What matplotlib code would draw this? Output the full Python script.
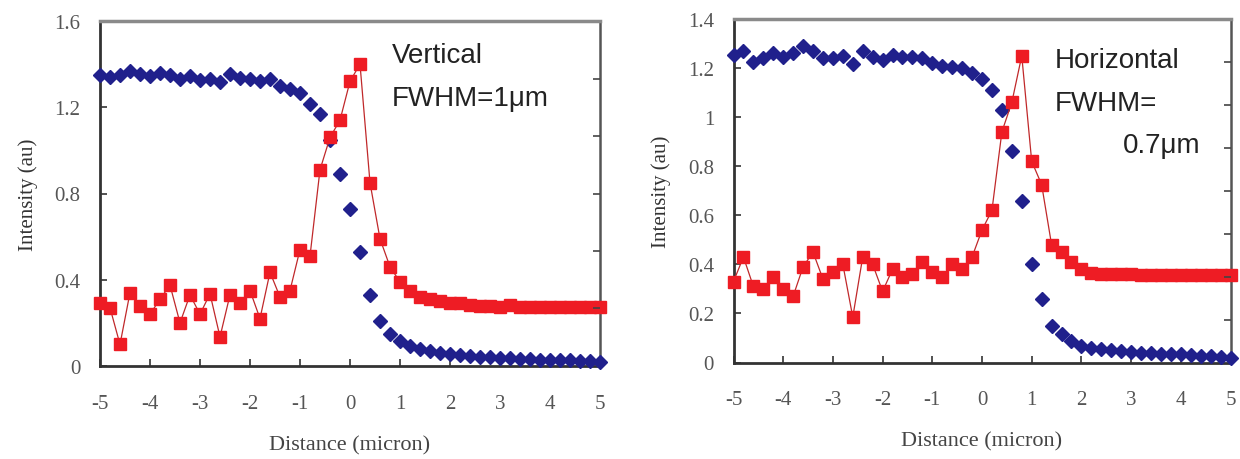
import matplotlib
matplotlib.use("Agg")
import matplotlib.pyplot as plt

# distance grid shared by both scans (micron)
DIST = [-5.0, -4.8, -4.6, -4.4, -4.2, -4.0, -3.8, -3.6, -3.4, -3.2,
        -3.0, -2.8, -2.6, -2.4, -2.2, -2.0, -1.8, -1.6, -1.4, -1.2,
        -1.0, -0.8, -0.6, -0.4, -0.2, 0.0, 0.2, 0.4, 0.6, 0.8,
        1.0, 1.2, 1.4, 1.6, 1.8, 2.0, 2.2, 2.4, 2.6, 2.8,
        3.0, 3.2, 3.4, 3.6, 3.8, 4.0, 4.2, 4.4, 4.6, 4.8, 5.0]

# vertical scan
V_EDGE = [1.35, 1.34, 1.35, 1.37, 1.355, 1.345, 1.36, 1.35, 1.33, 1.345,
          1.325, 1.33, 1.315, 1.355, 1.335, 1.33, 1.32, 1.33, 1.30, 1.285,
          1.265, 1.215, 1.17, 1.05, 0.89, 0.73, 0.53, 0.33, 0.21, 0.15,
          0.115, 0.095, 0.08, 0.07, 0.062, 0.055, 0.05, 0.046, 0.042, 0.04,
          0.037, 0.035, 0.033, 0.032, 0.03, 0.03, 0.028, 0.027, 0.025, 0.023, 0.02]
V_DERIV = [0.29, 0.27, 0.10, 0.34, 0.28, 0.24, 0.31, 0.375, 0.20, 0.33,
           0.24, 0.335, 0.135, 0.33, 0.29, 0.35, 0.22, 0.435, 0.32, 0.35,
           0.54, 0.51, 0.91, 1.06, 1.14, 1.32, 1.40, 0.85, 0.59, 0.46,
           0.39, 0.35, 0.32, 0.31, 0.30, 0.29, 0.29, 0.285, 0.28, 0.28,
           0.275, 0.285, 0.275, 0.275, 0.275, 0.275, 0.275, 0.275, 0.275, 0.275, 0.275]

# horizontal scan
H_EDGE = [1.254, 1.27, 1.226, 1.24, 1.26, 1.246, 1.26, 1.29, 1.27, 1.24,
          1.24, 1.25, 1.215, 1.27, 1.246, 1.234, 1.255, 1.246, 1.245, 1.24,
          1.22, 1.21, 1.205, 1.20, 1.18, 1.155, 1.11, 1.03, 0.86, 0.66,
          0.40, 0.26, 0.15, 0.115, 0.088, 0.068, 0.06, 0.055, 0.05, 0.046,
          0.042, 0.04, 0.038, 0.036, 0.035, 0.033, 0.03, 0.028, 0.026, 0.023, 0.02]
H_DERIV = [0.33, 0.43, 0.31, 0.30, 0.35, 0.30, 0.27, 0.39, 0.45, 0.34,
           0.37, 0.40, 0.185, 0.43, 0.40, 0.29, 0.38, 0.35, 0.36, 0.41,
           0.37, 0.35, 0.40, 0.38, 0.43, 0.54, 0.62, 0.94, 1.06, 1.25,
           0.82, 0.725, 0.48, 0.45, 0.41, 0.38, 0.365, 0.36, 0.36, 0.36,
           0.36, 0.355, 0.355, 0.355, 0.355, 0.355, 0.355, 0.355, 0.355, 0.355, 0.355]

X_TICKS = [-5, -4, -3, -2, -1, 0, 1, 2, 3, 4, 5]
V_YTICKS = [0, 0.4, 0.8, 1.2, 1.6]
V_YLABELS = ["0", "0.4", "0.8", "1.2", "1.6"]
H_YTICKS = [0, 0.2, 0.4, 0.6, 0.8, 1.0, 1.2, 1.4]
H_YLABELS = ["0", "0.2", "0.4", "0.6", "0.8", "1", "1.2", "1.4"]

BLUE = "#20208c"
RED = "#ee1c24"
RED_LINE = "#c0282a"
SERIF = "Liberation Serif"
SANS = "Liberation Sans"


def panel(fig, rect, edge, deriv, ymax, yticks, ylabels, n_right, note_lines):
    ax = fig.add_axes(rect)
    ax.plot(DIST, edge, ls="none", marker="D", ms=7.5, color=BLUE,
            mec=BLUE, zorder=3, clip_on=False)
    ax.plot(DIST, deriv, ls="-", lw=0.9, color=RED_LINE, marker="s", ms=8.7,
            mfc=RED, mec=RED, zorder=4, clip_on=False)
    ax.set_xlim(-5, 5)
    ax.set_ylim(0, ymax)
    ax.set_xticks(X_TICKS)
    ax.set_xticklabels([str(t) for t in X_TICKS])
    ax.set_yticks(yticks)
    ax.set_yticklabels(ylabels)
    ax.tick_params(direction="in", length=5, width=1.2, color="#333333",
                   labelcolor="#555555", labelsize=15)
    ax.tick_params(axis="x", pad=20)
    ax.tick_params(axis="y", pad=14)
    for lab in ax.get_xticklabels() + ax.get_yticklabels():
        lab.set_family(SERIF)
    ax.set_xlabel("Distance (micron)", family=SERIF, fontsize=16,
                  color="#444444", labelpad=16)
    ax.set_ylabel("Intensity (au)", family=SERIF, fontsize=15,
                  color="#333333", labelpad=12)
    for side in ("left", "bottom"):
        ax.spines[side].set_linewidth(2.0)
        ax.spines[side].set_color("#333333")
    ax.spines["top"].set_linewidth(2.5)
    ax.spines["top"].set_color("#8a8a8a")
    ax.spines["right"].set_linewidth(1.8)
    ax.spines["right"].set_color("#555555")

    # unlabelled ticks on the right edge (secondary scale of the original)
    twin = ax.twinx()
    twin.set_ylim(0, n_right)
    twin.set_yticks(list(range(1, n_right)))
    twin.set_yticklabels([])
    twin.tick_params(direction="in", length=5, width=1.2, color="#444444")
    for side in ("left", "bottom", "top", "right"):
        twin.spines[side].set_visible(False)

    for text, xf, yf in note_lines:
        ax.text(xf, yf, text, transform=ax.transAxes, family=SANS,
                fontsize=20, color="#222222", ha="left", va="baseline")
    return ax


fig = plt.figure(figsize=(12.4, 4.6), dpi=100)

panel(fig, [100 / 1240, 1 - 367 / 460, 500 / 1240, 345 / 460],
      V_EDGE, V_DERIV, 1.6, V_YTICKS, V_YLABELS, 6,
      [("Vertical", 0.584, 0.88), ("FWHM=1\u03bcm", 0.584, 0.757)])

panel(fig, [733.5 / 1240, 1 - 363.5 / 460, 497 / 1240, 343.5 / 460],
      H_EDGE, H_DERIV, 1.4, H_YTICKS, H_YLABELS, 8,
      [("Horizontal", 0.647, 0.86), ("FWHM=", 0.647, 0.736),
       ("0.7\u03bcm", 0.784, 0.614)])

fig.savefig("out.png", dpi=100)
